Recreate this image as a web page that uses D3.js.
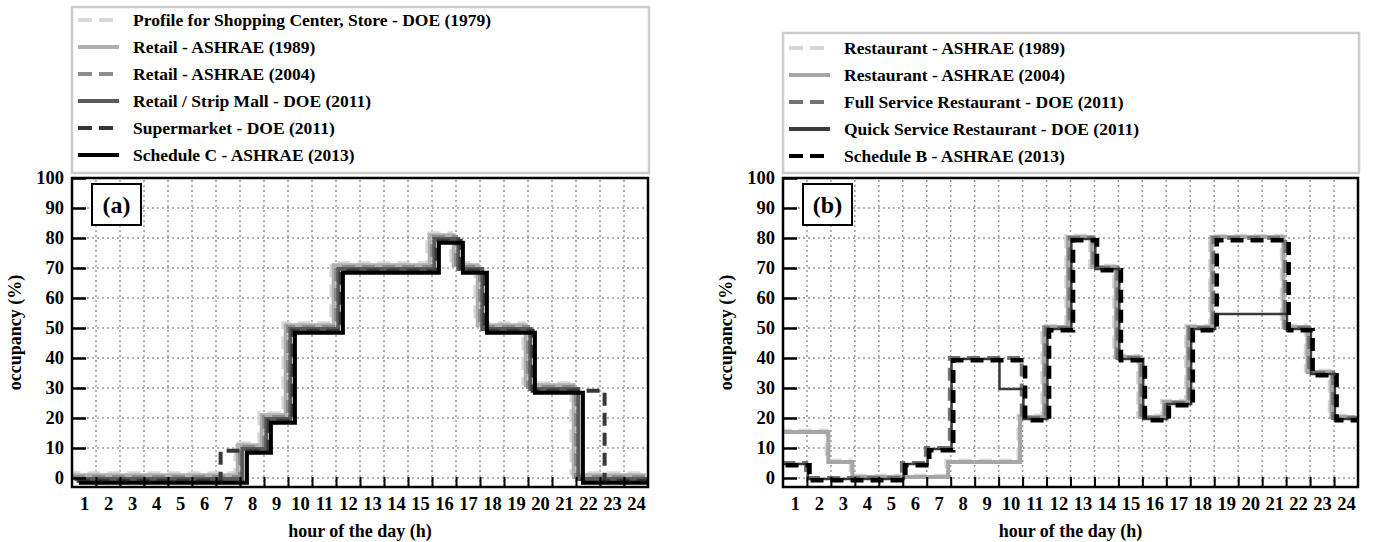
<!DOCTYPE html>
<html>
<head>
<meta charset="utf-8">
<script src="https://cdn.jsdelivr.net/npm/d3@7"></script>
<style>
  body { margin: 0; background: #fff; }
  svg text { font-family: "Liberation Serif", "Times New Roman", serif; font-weight: bold; fill: #000; }
</style>
</head>
<body>
<svg id="fig" width="1374" height="542"></svg>
<script>
// hour labels (x) and occupancy ticks (y)
const hourLabels = ["1","2","3","4","5","6","7","8","9","10","11","12","13","14","15","16","17","18","19","20","21","22","23","24"];
const occTicks = [0, 10, 20, 30, 40, 50, 60, 70, 80, 90, 100];

// panel (a) - retail, occupancy % for hours 1..24
const shoppingDOE1979  = [0,0,0,0,0,0,0,10,20,50,50,70,70,70,70,80,70,50,50,30,30,0,0,0];
const retailASHRAE1989 = [0,0,0,0,0,0,0,10,20,50,50,70,70,70,70,80,70,50,50,30,30,0,0,0];
const retailASHRAE2004 = [0,0,0,0,0,0,0,10,20,50,50,70,70,70,70,80,70,50,50,30,30,0,0,0];
const stripMallDOE2011 = [0,0,0,0,0,0,0,10,20,50,50,70,70,70,70,80,70,50,50,30,30,0,0,0];
const supermarketDOE2011 = [0,0,0,0,0,0,10,10,20,50,50,70,70,70,70,80,70,50,50,30,30,30,0,0];
const scheduleC2013    = [0,0,0,0,0,0,0,10,20,50,50,70,70,70,70,80,70,50,50,30,30,0,0,0];

// panel (b) - restaurants
const restASHRAE1989   = [15,15,5,0,0,0,0,5,5,5,20,50,80,70,40,20,25,50,80,80,80,50,35,20];
const restASHRAE2004   = [15,15,5,0,0,0,0,5,5,5,20,50,80,70,40,20,25,50,80,80,80,50,35,20];
const fullServiceDOE2011  = [5,0,0,0,0,5,10,40,40,40,20,50,80,70,40,20,25,50,80,80,80,50,35,20];
const quickServiceDOE2011 = [5,0,0,0,0,5,10,40,40,30,20,50,80,70,40,20,25,50,55,55,55,50,35,20];
const scheduleB2013    = [5,0,0,0,0,5,10,40,40,40,20,50,80,70,40,20,25,50,80,80,80,50,35,20];

const seriesA = [
  {name: "Profile for Shopping Center, Store - DOE (1979)", values: shoppingDOE1979},
  {name: "Retail - ASHRAE (1989)", values: retailASHRAE1989},
  {name: "Retail - ASHRAE (2004)", values: retailASHRAE2004},
  {name: "Retail / Strip Mall - DOE (2011)", values: stripMallDOE2011},
  {name: "Supermarket - DOE (2011)", values: supermarketDOE2011},
  {name: "Schedule C - ASHRAE (2013)", values: scheduleC2013}
];
const seriesB = [
  {name: "Restaurant - ASHRAE (1989)", values: restASHRAE1989},
  {name: "Restaurant - ASHRAE (2004)", values: restASHRAE2004},
  {name: "Full Service Restaurant - DOE (2011)", values: fullServiceDOE2011},
  {name: "Quick Service Restaurant - DOE (2011)", values: quickServiceDOE2011},
  {name: "Schedule B - ASHRAE (2013)", values: scheduleB2013}
];

// line styles (colour, width, dash) per series
const stylesA = [
  {c: "#d9d9d9", w: 4, dash: "13,7"},
  {c: "#b0b0b0", w: 4, dash: null},
  {c: "#8c8c8c", w: 4, dash: "13,7"},
  {c: "#5a5a5a", w: 4, dash: null},
  {c: "#383838", w: 4, dash: "13,7"},
  {c: "#000000", w: 4, dash: null}
];
const stylesB = [
  {c: "#d6d6d6", w: 4, dash: "13,7"},
  {c: "#a6a6a6", w: 4, dash: null},
  {c: "#737373", w: 4, dash: "13,7"},
  {c: "#3a3a3a", w: 2.5, dash: null},
  {c: "#000000", w: 4.5, dash: "13,7"}
];

const svg = d3.select("#fig");

function drawPanel(p) {
  const x = d3.scaleLinear().domain([0, 24]).range([p.left, p.right]);
  const y = d3.scaleLinear().domain([-3, 100]).range([487, 178]);
  const g = svg.append("g");

  // clip the nudged lines to the plot frame
  g.append("clipPath").attr("id", "clip-" + p.id)
    .append("rect")
    .attr("x", p.left).attr("y", y(100))
    .attr("width", p.right - p.left).attr("height", y(-3) - y(100));

  // dotted grid
  g.append("g").selectAll("line.h").data(occTicks).join("line")
    .attr("x1", p.left).attr("x2", p.right)
    .attr("y1", d => y(d)).attr("y2", d => y(d))
    .attr("stroke", "#999").attr("stroke-width", 1.5).attr("stroke-dasharray", "2,3");
  g.append("g").selectAll("line.v").data(d3.range(1, 24)).join("line")
    .attr("x1", d => x(d)).attr("x2", d => x(d))
    .attr("y1", y(-3)).attr("y2", y(100))
    .attr("stroke", "#999").attr("stroke-width", 1.5).attr("stroke-dasharray", "2,3");

  // step lines, each series nudged slightly so overlaps stay visible
  const line = d3.line()
    .x((d, i) => x(i))
    .y(d => y(d))
    .curve(d3.curveStepAfter);
  const lines = g.append("g").attr("clip-path", `url(#clip-${p.id})`);
  p.series.forEach((s, i) => {
    const st = p.styles[i];
    const pts = s.values.concat([s.values[s.values.length - 1]]);
    lines.append("path")
      .attr("d", line(pts))
      .attr("transform", `translate(${p.dx(i)},${p.dy(i)})`)
      .attr("fill", "none")
      .attr("stroke", st.c)
      .attr("stroke-width", st.w)
      .attr("stroke-dasharray", st.dash);
  });

  // frame
  g.append("rect")
    .attr("x", p.left).attr("y", y(100))
    .attr("width", p.right - p.left).attr("height", y(-3) - y(100))
    .attr("fill", "none").attr("stroke", "#000").attr("stroke-width", 2.5);

  // y axis, ticks pointing inwards
  g.append("g")
    .attr("transform", `translate(${p.left},0)`)
    .call(d3.axisLeft(y).tickValues(occTicks).tickSizeInner(-14).tickSizeOuter(0).tickPadding(8))
    .call(a => a.select(".domain").remove())
    .call(a => a.selectAll("line").attr("stroke-width", 2.5))
    .call(a => a.selectAll("text").style("font-size", "18.5px"));

  // x ticks at hour boundaries
  g.append("g")
    .attr("transform", `translate(0,${y(-3)})`)
    .call(d3.axisBottom(x).tickValues(d3.range(1, 24)).tickSizeInner(-10).tickSizeOuter(0).tickFormat(""))
    .call(a => a.select(".domain").remove())
    .call(a => a.selectAll("line").attr("stroke-width", 2));

  // hour labels centred in each hour
  g.append("g")
    .attr("transform", `translate(0,${y(-3)})`)
    .call(d3.axisBottom(x).tickValues(hourLabels.map((d, i) => i + 0.5)).tickSize(0).tickPadding(10)
      .tickFormat((d, i) => hourLabels[i]))
    .call(a => a.select(".domain").remove())
    .call(a => a.selectAll("text").style("font-size", "18.5px"));

  // axis titles
  g.append("text")
    .attr("x", (p.left + p.right) / 2).attr("y", 537)
    .attr("text-anchor", "middle").style("font-size", "18px")
    .text("hour of the day (h)");
  g.append("text")
    .attr("transform", `translate(${p.left - 51},${(y(100) + y(-3)) / 2}) rotate(-90)`)
    .attr("text-anchor", "middle").style("font-size", "18px")
    .text("occupancy (%)");

  // panel tag
  g.append("rect")
    .attr("x", p.left + 20).attr("y", 184).attr("width", 49).attr("height", 41)
    .attr("fill", "#fff").attr("stroke", "#000").attr("stroke-width", 2);
  g.append("text")
    .attr("x", p.left + 44.5).attr("y", 213)
    .attr("text-anchor", "middle").style("font-size", "24px")
    .text(p.tag);

  // legend
  const lg = g.append("g");
  lg.append("rect")
    .attr("x", p.left).attr("y", p.legTop)
    .attr("width", p.right - p.left + 1).attr("height", 166 - (p.legTop - 7))
    .attr("fill", "#fff").attr("stroke", "#ccc").attr("stroke-width", 2.5);
  const rows = lg.selectAll("g.row").data(p.series).join("g")
    .attr("transform", (d, i) => `translate(${p.left},${p.legRow0 + 27 * i})`);
  rows.append("line")
    .attr("x1", 6).attr("x2", 47)
    .attr("stroke", (d, i) => p.styles[i].c)
    .attr("stroke-width", 4)
    .attr("stroke-dasharray", (d, i) => p.styles[i].dash ? "14,7" : null);
  rows.append("text")
    .attr("x", 61).attr("dy", "0.35em")
    .style("font-size", "17.5px")
    .text(d => d.name);
}

drawPanel({
  id: "a", left: 72, right: 648, series: seriesA, styles: stylesA, tag: "(a)",
  legTop: 7, legRow0: 20,
  dx: i => (i - 2) * 2.3, dy: i => (i - 2.5) * 1.9
});
drawPanel({
  id: "b", left: 783, right: 1358, series: seriesB, styles: stylesB, tag: "(b)",
  legTop: 33, legRow0: 48,
  dx: i => (i - 2.5) * 1.7, dy: i => (i - 2) * 1.1
});
</script>
</body>
</html>
